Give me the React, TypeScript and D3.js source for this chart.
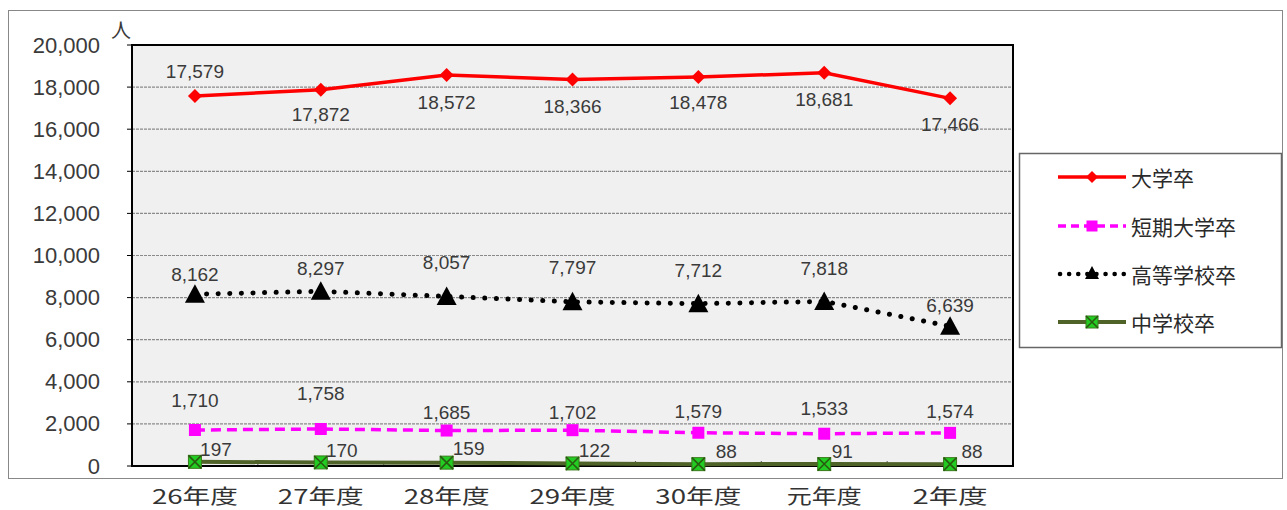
import React from "react";
import * as d3 from "d3";

const categories = ["26年度", "27年度", "28年度", "29年度", "30年度", "元年度", "2年度"];
const seriesNames = ["大学卒", "短期大学卒", "高等学校卒", "中学校卒"];
const university = [17579, 17872, 18572, 18366, 18478, 18681, 17466];
const juniorCollege = [1710, 1758, 1685, 1702, 1579, 1533, 1574];
const highSchool = [8162, 8297, 8057, 7797, 7712, 7818, 6639];
const juniorHigh = [197, 170, 159, 122, 88, 91, 88];
const yTicks = [0, 2000, 4000, 6000, 8000, 10000, 12000, 14000, 16000, 18000, 20000];

// label offsets (dx, dy) in px relative to point
const uniLabelOff = [[0, -24], [0, 25], [0, 27], [0, 27], [0, 25], [0, 27], [0, 26]];
const jcLabelOff = [[0, -30], [0, -35], [0, -18], [0, -18], [0, -21], [0, -25], [0, -21]];
const hsLabelOff = [[0, -20], [0, -23], [0, -34], [0, -34], [0, -33], [0, -33], [0, -21]];
const jhLabelOff = [[21, -12], [21, -12], [22, -14], [22, -13], [28, -13], [18, -13], [22, -13]];

const CJK = "'Noto Sans CJK JP', 'Noto Sans', sans-serif";
const NUM = "'Liberation Sans', Arial, sans-serif";

export default function App() {
  const W = 1287, H = 510;
  const pl = 132, pr = 1013, pt = 45, pb = 466;
  const x = d3.scaleBand<string>().domain(categories).range([pl, pr]);
  const y = d3.scaleLinear().domain([0, 20000]).range([pb, pt]);
  const cx = (i: number) => (x(categories[i]) as number) + x.bandwidth() / 2;
  const line = (vals: number[]) =>
    d3.line<number>().x((_, i) => cx(i)).y((v) => y(v))(vals) as string;
  const fmt = d3.format(",");

  const diamond = (px: number, py: number, s: number, fill: string, key: any) => (
    <path key={key} d={`M${px},${py - s}L${px + s},${py}L${px},${py + s}L${px - s},${py}Z`} fill={fill} />
  );
  const square = (px: number, py: number, s: number, fill: string, key: any) => (
    <rect key={key} x={px - s} y={py - s} width={2 * s} height={2 * s} fill={fill} />
  );
  const triangle = (px: number, py: number, s: number, key: any) => (
    <path key={key} d={`M${px},${py - s}L${px + s},${py + s * 0.85}L${px - s},${py + s * 0.85}Z`} fill="#000" />
  );
  const xsq = (px: number, py: number, s: number, key: any) => (
    <g key={key}>
      <rect x={px - s} y={py - s} width={2 * s} height={2 * s} fill="#22cc22" stroke="#3a7a1a" strokeWidth={1} />
      <path d={`M${px - s},${py - s}L${px + s},${py + s}M${px + s},${py - s}L${px - s},${py + s}`} stroke="#2a5a10" strokeWidth={1.5} />
    </g>
  );

  const labels = (vals: number[], off: number[][], key: string) =>
    vals.map((v, i) => (
      <text key={key + i} x={cx(i) + off[i][0]} y={y(v) + off[i][1]} textAnchor="middle" dominantBaseline="central"
        fontSize={19} fill="#3a3a3a" fontFamily={NUM}>{fmt(v)}</text>
    ));

  const legendItems = [
    { name: seriesNames[0], y: 177 },
    { name: seriesNames[1], y: 226 },
    { name: seriesNames[2], y: 274 },
    { name: seriesNames[3], y: 322 },
  ];

  return (
    <svg width={W} height={H} style={{ position: "absolute", left: 0, top: 0 }}>
      <rect x={0} y={0} width={W} height={H} fill="#fff" />
      <rect x={8.5} y={10.5} width={1274} height={468} fill="#fff" stroke="#888" strokeWidth={1} />
      <rect x={pl} y={pt} width={pr - pl} height={pb - pt} fill="#f0f0f0" />
      {yTicks.slice(1, -1).map((t) => (
        <line key={t} x1={pl} x2={pr} y1={y(t)} y2={y(t)} stroke="#8a8a8a" strokeWidth={1.2} strokeDasharray="3,1" />
      ))}
      {yTicks.map((t) => (
        <g key={"yt" + t}>
          <line x1={pl - 5} x2={pl} y1={y(t)} y2={y(t)} stroke="#000" strokeWidth={1} />
          <text x={100} y={y(t)} textAnchor="end" dominantBaseline="central" fontSize={22} fill="#3a3a3a" fontFamily={NUM}>
            {fmt(t)}
          </text>
        </g>
      ))}
      <text x={121} y={29} textAnchor="middle" dominantBaseline="central" fontSize={20} fill="#3a3a3a" fontFamily={CJK}>人</text>
      {categories.map((c, i) => (
        <g key={c}>
          <line x1={(x(c) as number)} x2={(x(c) as number)} y1={pb} y2={pb - 5} stroke="#555" strokeWidth={1} />
          <text x={cx(i)} y={495} textAnchor="middle" dominantBaseline="central" fontSize={20} fill="#333" fontFamily={CJK}
            textLength={c.length === 4 ? 86 : 75} lengthAdjust="spacingAndGlyphs">{c}</text>
        </g>
      ))}
      <rect x={pl} y={pt} width={pr - pl} height={pb - pt} fill="none" stroke="#000" strokeWidth={2} />

      {/* 中学校卒 */}
      <path d={line(juniorHigh)} fill="none" stroke="#4f6228" strokeWidth={4} />
      {juniorHigh.map((v, i) => xsq(cx(i), y(v), 6.5, "jh" + i))}
      {/* 短期大学卒 */}
      <path d={line(juniorCollege)} fill="none" stroke="#ff00ff" strokeWidth={3.5} strokeDasharray="10,6" />
      {juniorCollege.map((v, i) => square(cx(i), y(v), 6, "#ff00ff", "jc" + i))}
      {/* 高等学校卒 */}
      <path d={line(highSchool)} fill="none" stroke="#000" strokeWidth={5} strokeDasharray="0.1,11.5" strokeLinecap="round" />
      {highSchool.map((v, i) => triangle(cx(i), y(v), 10, "hs" + i))}
      {/* 大学卒 */}
      <path d={line(university)} fill="none" stroke="#ff0000" strokeWidth={3.5} />
      {university.map((v, i) => diamond(cx(i), y(v), 7, "#ff0000", "u" + i))}

      {labels(university, uniLabelOff, "ul")}
      {labels(juniorCollege, jcLabelOff, "jl")}
      {labels(highSchool, hsLabelOff, "hl")}
      {labels(juniorHigh, jhLabelOff, "jhl")}

      {/* Legend */}
      <rect x={1019.5} y={153.5} width={262} height={194} fill="#fff" stroke="#666" strokeWidth={1.5} />
      {legendItems.map((it, i) => {
        const x1 = 1058, x2 = 1126, mx = 1092;
        return (
          <g key={"lg" + i}>
            {i === 0 && <><line x1={x1} x2={x2} y1={it.y} y2={it.y} stroke="#ff0000" strokeWidth={3.5} />{diamond(mx, it.y, 6, "#ff0000", "ld")}</>}
            {i === 1 && <><line x1={x1} x2={x2} y1={it.y} y2={it.y} stroke="#ff00ff" strokeWidth={3.5} strokeDasharray="8,5" />{square(mx, it.y, 5.5, "#ff00ff", "ls")}</>}
            {i === 2 && <><line x1={x1 + 2} x2={x2} y1={it.y} y2={it.y} stroke="#000" strokeWidth={4.5} strokeDasharray="0.1,9" strokeLinecap="round" />{triangle(mx, it.y - 1, 7, "lt")}</>}
            {i === 3 && <><line x1={x1} x2={x2} y1={it.y} y2={it.y} stroke="#4f6228" strokeWidth={4} />{xsq(mx, it.y, 6, "lx")}</>}
            <text x={1131} y={it.y} dominantBaseline="central" fontSize={21} fill="#2a2a2a" fontFamily={CJK}>{it.name}</text>
          </g>
        );
      })}
    </svg>
  );
}
